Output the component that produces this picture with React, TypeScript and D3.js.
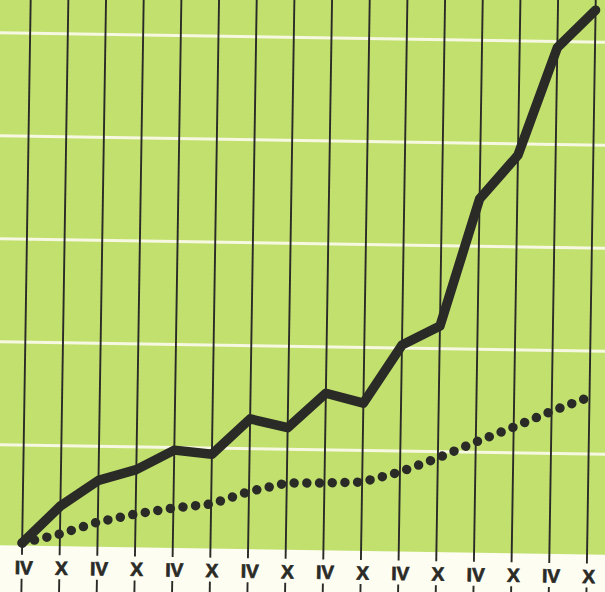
import React from "react";
import * as d3 from "d3";

// Half-year periods (April / October)
const periods = ["IV", "X", "IV", "X", "IV", "X", "IV", "X", "IV", "X", "IV", "X", "IV", "X", "IV", "X"];
// Solid series (index units)
const solidSeries = [5, 41.5, 67, 78, 97.5, 94, 129, 121, 155, 146, 203, 222, 346, 389, 494, 531];
// Dotted series
const dottedSeries = [5, 14.3, 26.5, 34.9, 41.3, 45.7, 58.4, 67.3, 67.9, 69.4, 79.7, 93.9, 110, 125, 141, 155.4];
// Horizontal white grid lines
const gridValues = [100, 200, 300, 400, 500];

const W = 605;
const H = 592;
const GREEN = "#c1e06e";
const PAPER = "#fdfdf2";
const INK = "#2a2a26";

export default function App() {
  const idx = periods.map((_, i) => i);
  const x = d3.scalePoint<number>().domain(idx).range([26, 591]);
  const y = d3.scaleLinear().domain([0, 500]).range([552.5, 37.5]);
  const bandTop = 550;

  const line = d3
    .line<number>()
    .x((_, i) => x(i) as number)
    .y((d) => y(d));

  return (
    <svg
      width={W}
      height={H}
      style={{ position: "absolute", left: 0, top: 0, display: "block" }}
    >
      <rect x={0} y={0} width={W} height={H} fill={PAPER} />
      <g transform="rotate(0.9, 300, 300)">
        <rect x={-40} y={-60} width={W + 80} height={bandTop + 60} fill={GREEN} />
        {gridValues.map((v) => (
          <line
            key={v}
            x1={-40}
            x2={W + 40}
            y1={y(v)}
            y2={y(v)}
            stroke="#f7f8e2"
            strokeWidth={3}
          />
        ))}
        {idx.map((i) => (
          <line
            key={"v" + i}
            x1={x(i)}
            x2={x(i)}
            y1={-60}
            y2={559}
            stroke={INK}
            strokeWidth={1.9}
          />
        ))}
        {idx.map((i) => (
          <line
            key={"t" + i}
            x1={x(i)}
            x2={x(i)}
            y1={583}
            y2={620}
            stroke={INK}
            strokeWidth={1.9}
          />
        ))}
        <path
          d={line(dottedSeries) || ""}
          fill="none"
          stroke={INK}
          strokeWidth={9.5}
          strokeLinecap="round"
          strokeDasharray="0 12.7"
        />
        <path
          d={line(solidSeries) || ""}
          fill="none"
          stroke={INK}
          strokeWidth={9.5}
          strokeLinejoin="round"
          strokeLinecap="round"
        />
        {periods.map((p, i) => (
          <text
            key={"l" + i}
            x={(x(i) as number) + 2}
            y={578.5}
            textAnchor="middle"
            fontFamily="'Liberation Sans', Arial, sans-serif"
            fontWeight="bold"
            fontSize={19}
            fill={INK}
            stroke={INK}
            strokeWidth={0.7}
          >
            {p}
          </text>
        ))}
      </g>
    </svg>
  );
}
